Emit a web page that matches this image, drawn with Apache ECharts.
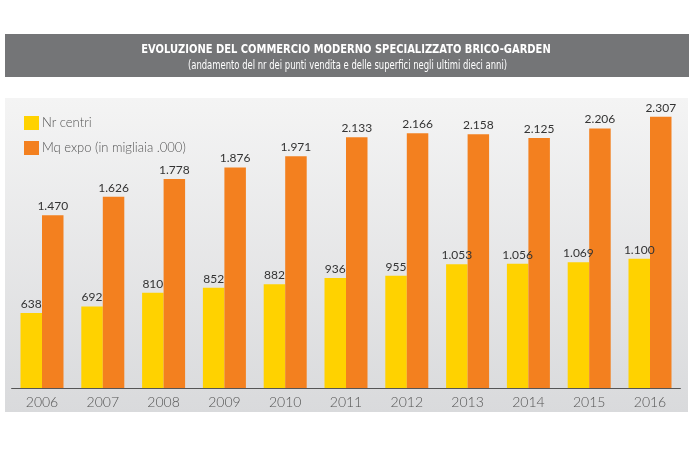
<!DOCTYPE html>
<html><head><meta charset="utf-8">
<script src="https://cdn.jsdelivr.net/npm/echarts@6/dist/echarts.min.js"></script>
<style>html,body{margin:0;padding:0;background:#fff}#c{width:696px;height:461px}</style>
</head><body><div id="c"></div>
<script>
var years = ['2006','2007','2008','2009','2010','2011','2012','2013','2014','2015','2016'];
var nrCentri = [638,692,810,852,882,936,955,1053,1056,1069,1100];
var mqExpo = [1470,1626,1778,1876,1971,2133,2166,2158,2125,2206,2307];
var seriesNames = ['Nr centri','Mq expo (in migliaia .000)'];
var titleText = 'EVOLUZIONE DEL COMMERCIO MODERNO SPECIALIZZATO BRICO-GARDEN';
var subText = '(andamento del nr dei punti vendita e delle superfici negli ultimi dieci anni)';

function fmt(v){ var s=String(v); return s.length>3 ? s.slice(0,s.length-3)+'.'+s.slice(-3) : s; }
var font = 'Lato, "Open Sans", sans-serif';
var tFont = '"Liberation Sans Narrow", "DejaVu Sans Condensed", sans-serif';
var chart = echarts.init(document.getElementById('c'));
chart.setOption({
  animation:false,
  graphic:[
    {type:'rect',z:-10,shape:{x:5,y:34,width:684,height:43},style:{fill:'#747577'}},
    {type:'text',z:5,x:346,y:49.5,scaleX:0.85,style:{text:titleText,fill:'#fff',textAlign:'center',textVerticalAlign:'middle',font:'bold 13px '+tFont}},
    {type:'text',z:5,x:347.5,y:66.5,scaleX:0.815,style:{text:subText,fill:'#fff',textAlign:'center',textVerticalAlign:'middle',font:'11.5px '+tFont}},
    {type:'rect',z:-10,shape:{x:5,y:98,width:683,height:314},style:{fill:new echarts.graphic.LinearGradient(0,0,0,1,[{offset:0,color:'#f4f4f4'},{offset:1,color:'#d9dadc'}])}}
  ],
  legend:{
    orient:'vertical',left:19,top:111,itemWidth:15,itemHeight:14,itemGap:11,
    icon:'rect',
    textStyle:{fontFamily:font,fontSize:13,color:'#555',fontWeight:300,padding:[0,0,0,-2]},
    data:seriesNames
  },
  grid:{left:11.6,right:15.6,top:94,bottom:73},
  xAxis:{type:'category',data:years,
    axisLine:{lineStyle:{color:'#555',width:1}},axisTick:{show:false},
    axisLabel:{color:'#555',fontSize:14,fontFamily:font,fontWeight:300,margin:7}},
  yAxis:{type:'value',min:0,max:2500,show:false,splitLine:{show:false}},
  series:[
    {name:seriesNames[0],type:'bar',data:nrCentri,barWidth:21.5,barGap:'0%',
     itemStyle:{color:'#ffd200'},
     label:{show:true,position:'top',distance:3,color:'#333',fontSize:12,fontFamily:font,formatter:function(p){return fmt(p.value);}}},
    {name:seriesNames[1],type:'bar',data:mqExpo,barWidth:21.5,barGap:'0%',
     itemStyle:{color:'#f3801f'},
     label:{show:true,position:'top',distance:3,color:'#333',fontSize:12,fontFamily:font,formatter:function(p){return fmt(p.value);}}}
  ]
});
</script></body></html>
